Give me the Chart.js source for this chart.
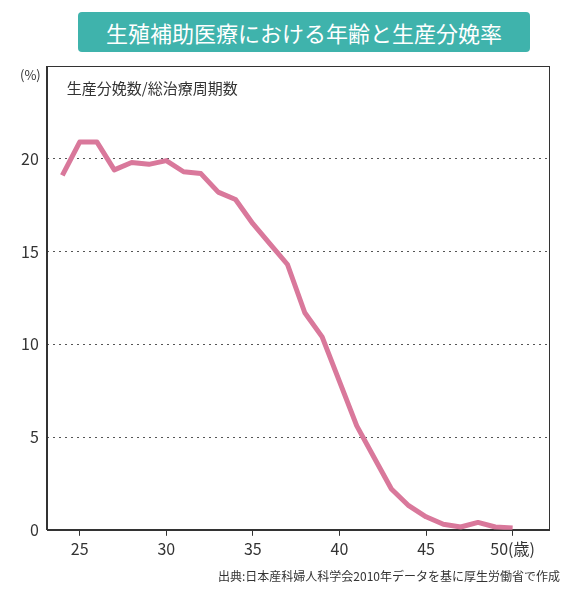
<!DOCTYPE html>
<html><head><meta charset="utf-8">
<script src="https://cdn.jsdelivr.net/npm/chart.js@4/dist/chart.umd.min.js"></script>
<style>
body{margin:0;background:#fff;font-family:"Noto Sans CJK JP",sans-serif;}
#title{position:absolute;left:78px;top:12px;width:452px;height:40px;background:#3fb3ac;border-radius:4px;color:#fff;font-size:22px;line-height:40px;text-align:center;}
#wrap{position:absolute;left:0;top:0;width:577px;height:600px;}
</style></head>
<body>
<div id="wrap"><canvas id="myChart"></canvas></div>
<div id="title">生殖補助医療における年齢と生産分娩率</div>
<script>
var ages = [24,25,26,27,28,29,30,31,32,33,34,35,36,37,38,39,40,41,42,43,44,45,46,47,48,49,50];
var rates = [19.1,20.9,20.9,19.4,19.8,19.7,19.9,19.3,19.2,18.2,17.8,16.5,15.4,14.3,11.7,10.4,8.0,5.6,3.9,2.2,1.3,0.7,0.3,0.15,0.4,0.15,0.1];
var xTicks = [25,30,35,40,45,50];
var yTicks = [0,5,10,15,20];

var frame = {
  id:'frame',
  afterDraw: function(c){
    var a = c.chartArea, ctx = c.ctx;
    ctx.save();
    ctx.strokeStyle='#333'; ctx.lineWidth=1;
    ctx.strokeRect(Math.round(a.left)+0.5,Math.round(a.top)+0.5,Math.round(a.width),Math.round(a.height));
    ctx.fillStyle='#333';
    ctx.font='15px "Noto Sans CJK JP"';
    ctx.fillText('生産分娩数/総治療周期数', a.left+20, a.top+28);
    ctx.font='13px "Noto Sans CJK JP"';
    ctx.fillText('(%)', 20, 80);
    ctx.font='12px "Noto Sans CJK JP"';
    ctx.textAlign='right';
    ctx.fillText('出典:日本産科婦人科学会2010年データを基に厚生労働省で作成', 560, 581);
    ctx.restore();
  }
};

new Chart(document.getElementById('myChart').getContext('2d'), {
  type:'line',
  data:{datasets:[{data: ages.map(function(a,i){return {x:a,y:rates[i]};}),
    borderColor:'#d9789b', borderWidth:5, pointRadius:0, tension:0, borderJoinStyle:'round'}]},
  options:{
    responsive:true, maintainAspectRatio:false, animation:false,
    layout:{padding:{top:66,left:13,right:28,bottom:37}},
    plugins:{legend:{display:false},tooltip:{enabled:false}},
    scales:{
      x:{type:'linear',min:23.1,max:52.1,
        afterBuildTicks:function(s){s.ticks=xTicks.map(function(v){return {value:v};});},
        ticks:{color:'#333',font:{size:16,family:'"Noto Sans CJK JP"'},padding:4,
          callback:function(v){return v===50?'50(歳)':v;}},
        grid:{drawOnChartArea:false,tickLength:6,color:'#333'},border:{color:'#333'}},
      y:{min:0,max:25,
        afterBuildTicks:function(s){s.ticks=yTicks.map(function(v){return {value:v};});},
        ticks:{color:'#333',font:{size:16,family:'"Noto Sans CJK JP"'},padding:8},
        grid:{color:'#555',lineWidth:1,tickLength:0,drawTicks:false},
        border:{color:'#333',dash:[2,4]}}
    }
  },
  plugins:[frame]
});
</script>
</body></html>
